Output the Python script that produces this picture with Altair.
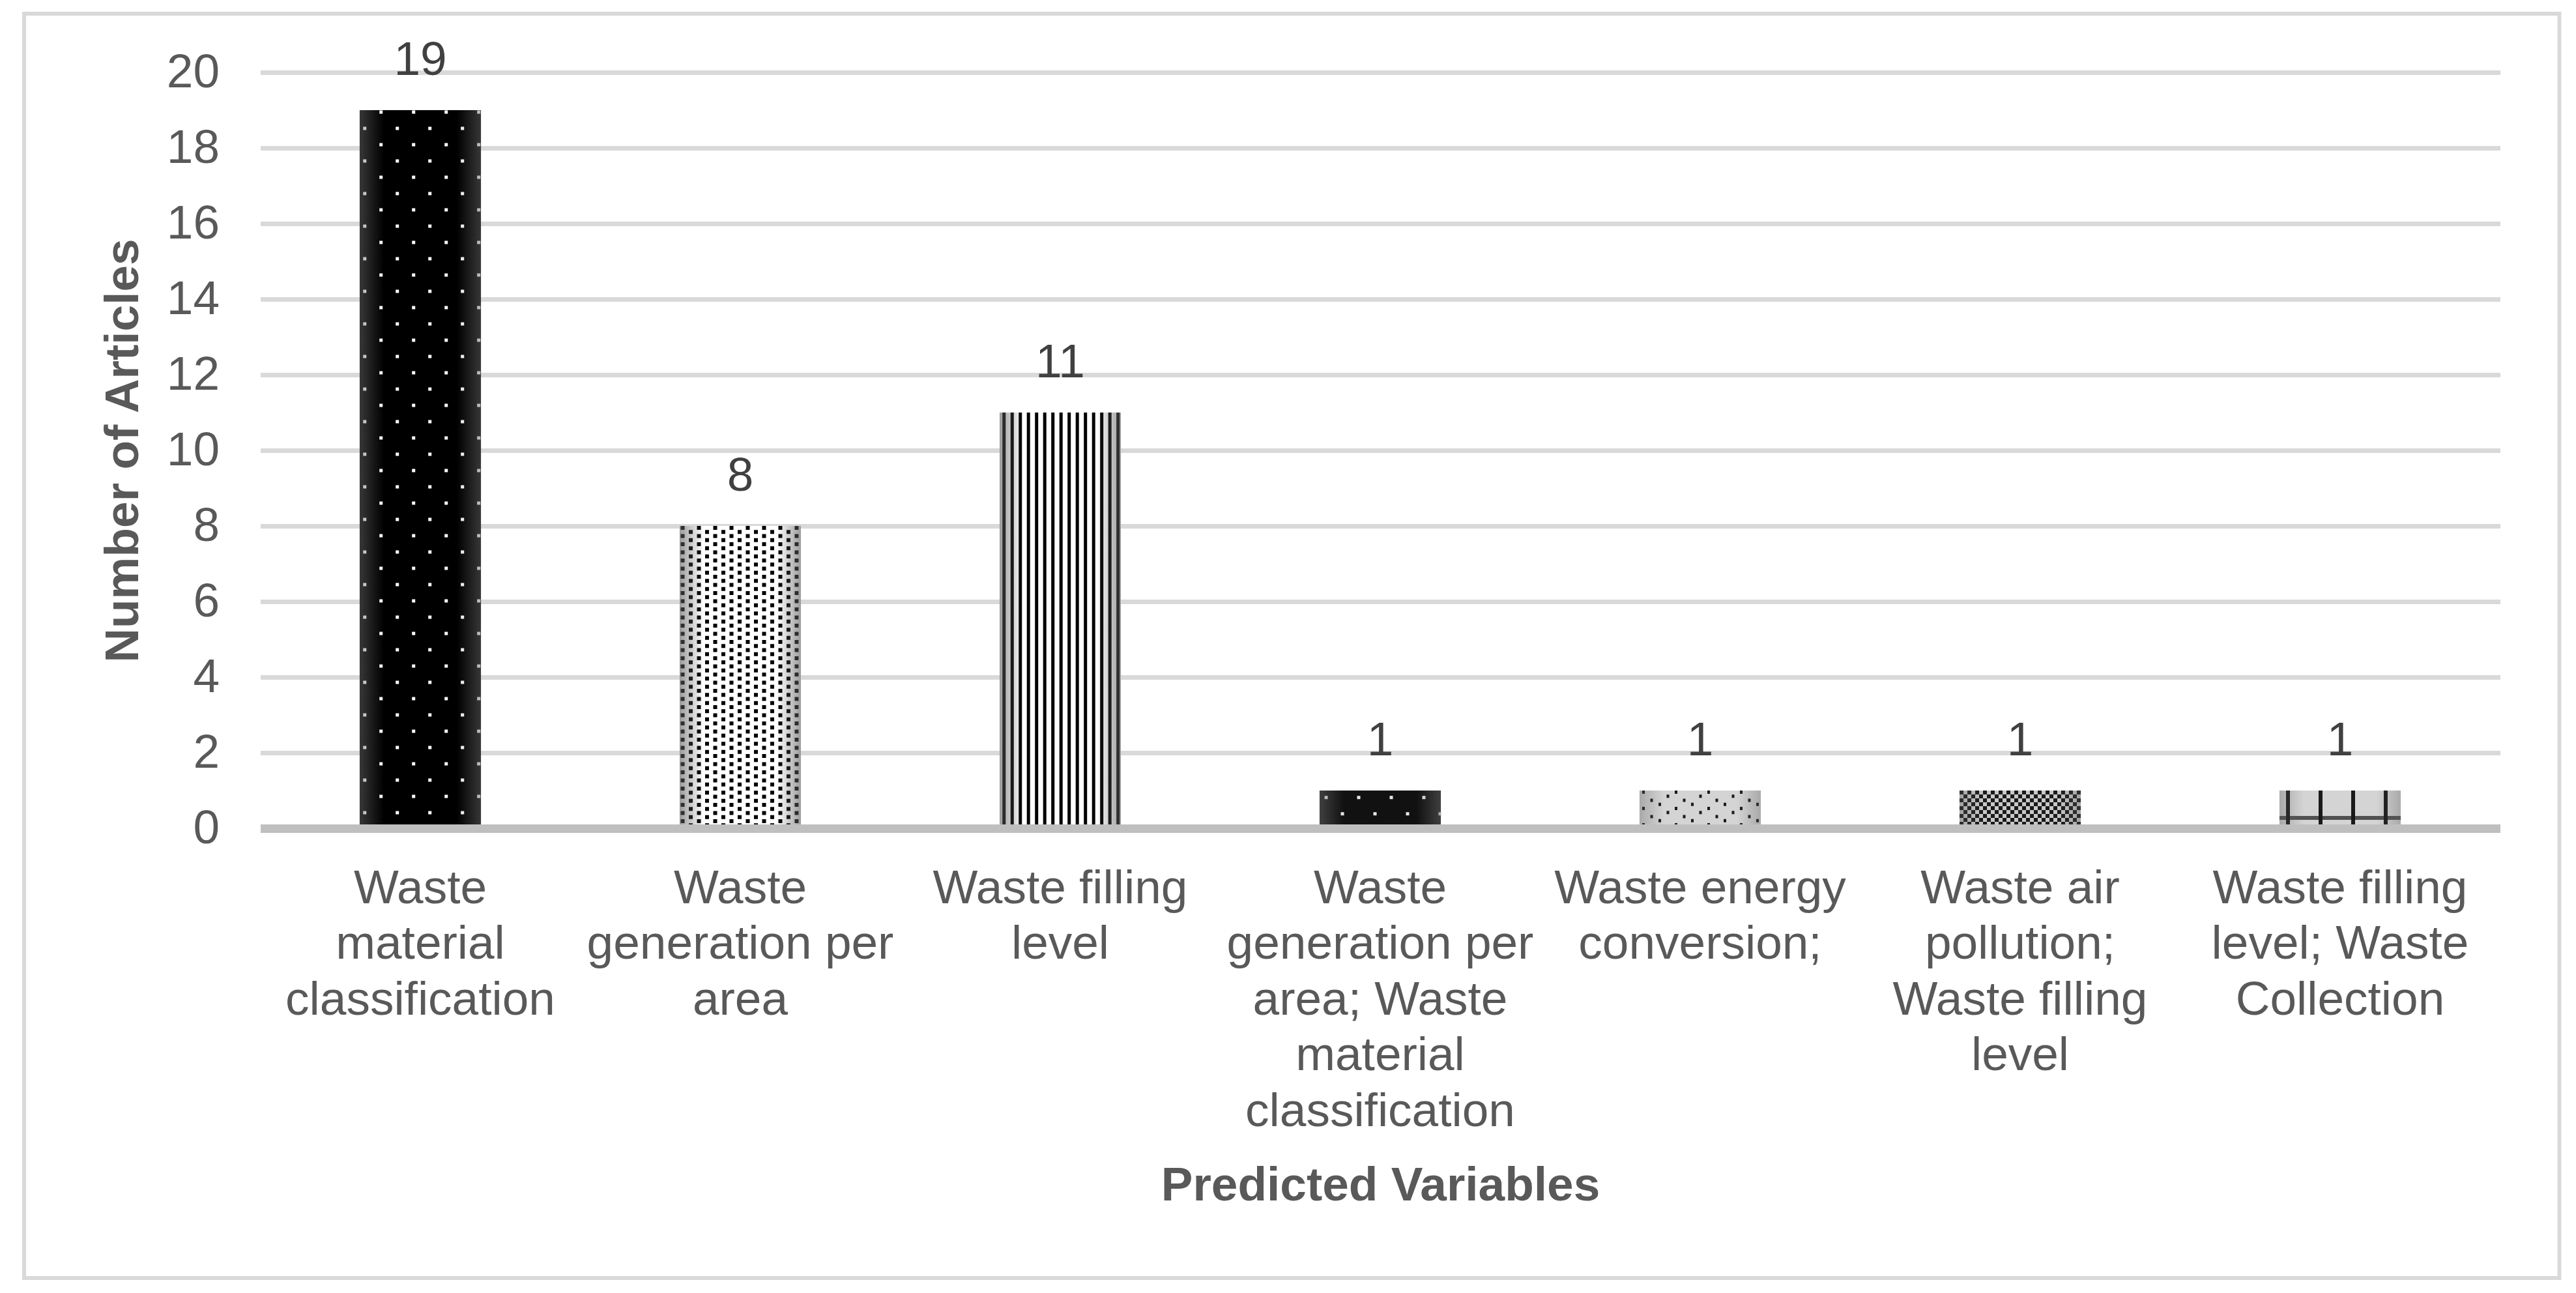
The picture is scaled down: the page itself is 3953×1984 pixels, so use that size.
import altair as alt
import pandas as pd

# ---------------- data ----------------
categories = [
    "Waste\nmaterial\nclassification",
    "Waste\ngeneration per\narea",
    "Waste filling\nlevel",
    "Waste\ngeneration per\narea; Waste\nmaterial\nclassification",
    "Waste energy\nconversion;",
    "Waste air\npollution;\nWaste filling\nlevel",
    "Waste filling\nlevel; Waste\nCollection",
]
articles = [19, 8, 11, 1, 1, 1, 1]
y_ticks = [0, 2, 4, 6, 8, 10, 12, 14, 16, 18, 20]
x_title = "Predicted Variables"
y_title = "Number of Articles"

df = pd.DataFrame({"cat": categories, "n": articles})

# ---------------- style ----------------
W, H = 3437, 1160
FONT = "Liberation Sans"
FS = 73
LABEL = "#595959"
BAR_W = 186

x_enc = alt.X(
    "cat:N",
    sort=categories,
    scale=alt.Scale(paddingInner=0.621, paddingOuter=0.3105),
    axis=alt.Axis(
        title=x_title,
        labelAngle=0,
        labelExpr="split(datum.label, '\\n')",
        labelFont=FONT,
        labelFontSize=FS,
        labelColor=LABEL,
        labelPadding=56,
        labelLineHeight=85.5,
        labelLimit=2000,
        labelOverlap=False,
        ticks=False,
        tickSize=0,
        domainColor="#bfbfbf",
        domainWidth=13,
        grid=False,
        titleFont=FONT,
        titleFontSize=FS,
        titleFontWeight="bold",
        titleColor=LABEL,
        titleY=570,
        titleBaseline="alphabetic",
        zindex=1,
    ),
)
y_enc = alt.Y(
    "n:Q",
    scale=alt.Scale(domain=[0, 20], nice=False, zero=True),
    axis=alt.Axis(
        values=y_ticks,
        title=y_title,
        labelFont=FONT,
        labelFontSize=FS,
        labelColor=LABEL,
        labelPadding=63,
        ticks=False,
        tickSize=0,
        domain=False,
        grid=True,
        gridColor="#d9d9d9",
        gridWidth=7,
        titleFont=FONT,
        titleFontSize=FS,
        titleFontWeight="bold",
        titleColor=LABEL,
        titleAngle=270,
        titleX=-188,
        titleY=H / 2,
        titleBaseline="alphabetic",
        titleAlign="center",
    ),
)


def sel(i):
    return alt.datum.cat == categories[i]


def base_bar(i, fill):
    return (
        alt.Chart(df)
        .mark_bar(fill=fill, strokeWidth=0)
        .encode(x=x_enc, y=y_enc)
        .transform_filter(sel(i))
    )


def rules(i, offsets, color, width, dash=None, dash_offsets=None):
    out = []
    for k, c in enumerate(offsets):
        props = dict(xOffset=c, color=color, strokeWidth=width)
        if dash is not None:
            props["strokeDash"] = dash
            props["strokeDashOffset"] = dash_offsets[k % len(dash_offsets)]
        out.append(
            alt.Chart(df)
            .mark_rule(**props)
            .encode(x=x_enc, y=y_enc, y2=alt.datum(0))
            .transform_filter(sel(i))
        )
    return out


def shade(i, edge, clear):
    grad = alt.LinearGradient(
        gradient="linear",
        x1=0, x2=1, y1=0, y2=0,
        stops=[
            alt.GradientStop(color=edge, offset=0),
            alt.GradientStop(color=clear, offset=0.2),
            alt.GradientStop(color=clear, offset=0.8),
            alt.GradientStop(color=edge, offset=1),
        ],
    )
    return (
        alt.Chart(df)
        .mark_bar(fill=grad, strokeWidth=0)
        .encode(x=x_enc, y=y_enc)
        .transform_filter(sel(i))
    )


DARK_EDGE = "rgba(110,110,110,0.5)"
DARK_CLEAR = "rgba(110,110,110,0)"
LIGHT_EDGE = "rgba(90,90,90,0.6)"
LIGHT_CLEAR = "rgba(90,90,90,0)"
GRAY_EDGE = "rgba(90,90,90,0.35)"

layers = []

# 1: black with white dots
layers.append(base_bar(0, "#000000"))
layers += rules(0, [-85.3 + 25 * k for k in range(8)], "#ffffff", 5, [5, 45], [24.5, 49.5])
layers.append(shade(0, DARK_EDGE, DARK_CLEAR))

# 2: white with dense black dots
layers.append(base_bar(1, "#ffffff"))
layers += rules(1, [-88.5 + 12.5 * k for k in range(15)], "#000000", 6, [6, 6.5], [0, 6.25])
layers.append(shade(1, LIGHT_EDGE, LIGHT_CLEAR))

# 3: vertical stripes
layers.append(base_bar(2, "#ffffff"))
layers += rules(2, [-86.3 + 12.5 * k for k in range(15)], "#000000", 5)
layers.append(shade(2, LIGHT_EDGE, LIGHT_CLEAR))

# 4: dark with white dots
layers.append(base_bar(3, "#111111"))
layers += rules(3, [-83 + 25 * k for k in range(8)], "#e6e6e6", 5, [5, 45], [41.8, 16.8])
layers.append(shade(3, DARK_EDGE, DARK_CLEAR))

# 5: light gray with sparse black dots
layers.append(base_bar(4, "#d4d4d4"))
layers += rules(4, [-87 + 12.5 * k for k in range(15)], "#1a1a1a", 4, [5, 20], [0, 12.5, 6.25, 18.75])
layers.append(shade(4, GRAY_EDGE, LIGHT_CLEAR))

# 6: checkerboard
layers.append(base_bar(5, "#c8c8c8"))
layers += rules(5, [-90 + 6 * k for k in range(31)], "#1a1a1a", 6, [6, 6], [0, 6])
layers.append(shade(5, GRAY_EDGE, LIGHT_CLEAR))

# 7: light gray with large grid
layers.append(base_bar(6, "#d4d4d4"))
layers += rules(6, [-80, -30, 20, 70], "#1a1a1a", 6)
layers.append(
    alt.Chart(df)
    .mark_tick(size=BAR_W, thickness=6, yOffset=42, color="#1a1a1a")
    .encode(x=x_enc, y=y_enc)
    .transform_filter(sel(6))
)
layers.append(shade(6, GRAY_EDGE, LIGHT_CLEAR))

# value labels
layers.append(
    alt.Chart(df)
    .mark_text(dy=-54, baseline="alphabetic", font=FONT, fontSize=FS, color="#404040")
    .encode(x=x_enc, y=y_enc, text="n:Q")
)

# outer chart frame
layers.append(
    alt.Chart(alt.Data(values=[{"frame": 1}]))
    .mark_rect(stroke="#d9d9d9", strokeWidth=6, fillOpacity=0)
    .encode(
        x=alt.value(-362.5),
        x2=alt.value(3528),
        y=alt.value(-90),
        y2=alt.value(1850),
    )
)

chart = (
    alt.layer(*layers)
    .properties(
        width=W,
        height=H,
        padding={"left": 25.5, "top": 10, "right": 8, "bottom": 8},
        background="white",
    )
    .configure_view(strokeWidth=0)
)

chart.save("out.html", embed_options={"renderer": "svg", "actions": False})
